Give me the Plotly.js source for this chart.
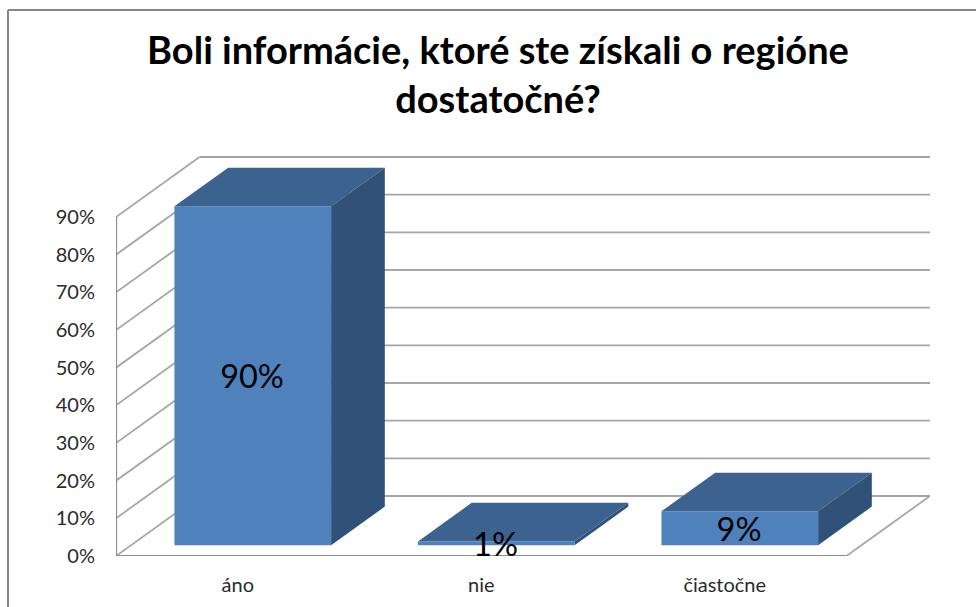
<!DOCTYPE html>
<html><head><meta charset="utf-8">
<script src="https://cdn.plot.ly/plotly-3.0.1.min.js"></script>
<style>html,body{margin:0;padding:0;background:#fff}#c{width:976px;height:607px}</style>
</head><body><div id="c"></div>
<script>
const categories = ['áno', 'nie', 'čiastočne'];
const values = [90, 1, 9];
const tickValues = [0, 10, 20, 30, 40, 50, 60, 70, 80, 90];

const W = 976, H = 607, L = 116, R = 930, T = 156, B = 556;
const wallDX = 0.343, wallDY = 15.93;      // oblique depth of the floor, axis units
const d0 = 0.18, d1 = 0.823, halfW = 0.3217; // bar depth band and half width
const yMax = 106.2;
const labelNudgeX = -0.003, labelNudgeY = -1.2;
const px = (x, d) => x + wallDX * d;
const py = (v, d) => v + wallDY * d;
const noHover = {hoverinfo: 'skip', showlegend: false};

const traces = [];
traces.push({type: 'bar', x: categories.map((c, i) => px(i, d0)), y: values,
  base: values.map(() => py(0, d0)), width: 2 * halfW,
  marker: {color: '#4f81bd', line: {width: 0}}, showlegend: false, name: 'front'});
values.forEach((v, i) => {
  const a = px(i - halfW, d0), b = px(i + halfW, d0), c = px(i + halfW, d1), e = px(i - halfW, d1);
  traces.push(Object.assign({type: 'scatter', mode: 'lines', fill: 'toself', fillcolor: '#3c6290',
    line: {width: 0, color: '#3c6290'},
    x: [a, b, c, e, a], y: [py(v, d0), py(v, d0), py(v, d1), py(v, d1), py(v, d0)]}, noHover));
  traces.push(Object.assign({type: 'scatter', mode: 'lines', fill: 'toself', fillcolor: '#315278',
    line: {width: 0, color: '#315278'},
    x: [b, c, c, b, b], y: [py(0, d0), py(0, d1), py(v, d1), py(v, d0), py(0, d0)]}, noHover));
});
traces.push(Object.assign({type: 'scatter', mode: 'text',
  x: values.map((v, i) => px(i, d0) + labelNudgeX), y: values.map(v => py(v / 2, d0) + labelNudgeY),
  text: values.map(v => v + '%'), textposition: 'middle center',
  textfont: {family: 'Lato, Carlito, sans-serif', size: 32.5, color: '#000'}}, noHover));

const grid = {color: '#a6a6a6', width: 1.8};
const axisLine = {color: '#8c8c8c', width: 2.2};
const seg = (x0, y0, x1, y1, line) => ({type: 'line', xref: 'x', yref: 'y', layer: 'below', x0, y0, x1, y1, line});
const xL = -0.5, xR = 2.5;
const shapes = [];
tickValues.forEach(t => {
  shapes.push(seg(px(xL, 0), py(t, 0), px(xL, 1), py(t, 1), grid));
  shapes.push(seg(px(xL, 1), py(t, 1), px(xR, 1), py(t, 1), grid));
});
shapes.push(seg(px(xL, 0), 0, px(xL, 0), 90, axisLine));
shapes.push(seg(px(xL, 0), 0, px(xR, 0), 0, axisLine));
shapes.push(seg(px(xR, 0), 0, px(xR, 1), py(0, 1), grid));
// outer chart frame (left and top edges)
const pw = R - L, ph = B - T;
const frame = {color: '#868686', width: 2};
shapes.push({type: 'line', xref: 'paper', yref: 'paper', x0: (8 - L) / pw, x1: (8 - L) / pw, y0: (B - 10) / ph, y1: (B - H) / ph, line: frame});
shapes.push({type: 'line', xref: 'paper', yref: 'paper', x0: (8 - L) / pw, x1: (W - L) / pw, y0: (B - 10) / ph, y1: (B - 10) / ph, line: frame});

const tickFont = {family: 'Lato, Carlito, sans-serif', size: 20, color: '#2b2b2b'};
const layout = {
  width: W, height: H, paper_bgcolor: '#fff', plot_bgcolor: '#fff',
  margin: {l: L, r: W - R, t: T, b: H - B, pad: 0},
  showlegend: false, barmode: 'overlay', shapes,
  title: {text: 'Boli informácie, ktoré ste získali o regióne<br>dostatočné?',
    x: 498 / W, xanchor: 'center', xref: 'container', y: 1 - 64 / H, yanchor: 'top',
    font: {family: 'Lato, Carlito, sans-serif', size: 38, color: '#000', weight: 700}},
  xaxis: {range: [xL, xR + wallDX], tickvals: categories.map((c, i) => i), ticktext: categories,
    showgrid: false, zeroline: false, showline: false, ticks: '', tickfont: tickFont,
    ticklabelstandoff: 15, fixedrange: true},
  yaxis: {range: [0, yMax], tickvals: tickValues, ticktext: tickValues.map(t => t + '%'),
    showgrid: false, zeroline: false, showline: false, ticks: '', tickfont: tickFont,
    ticklabelstandoff: 20, fixedrange: true}
};
Plotly.newPlot('c', traces, layout, {displayModeBar: false, responsive: false});
</script></body></html>
